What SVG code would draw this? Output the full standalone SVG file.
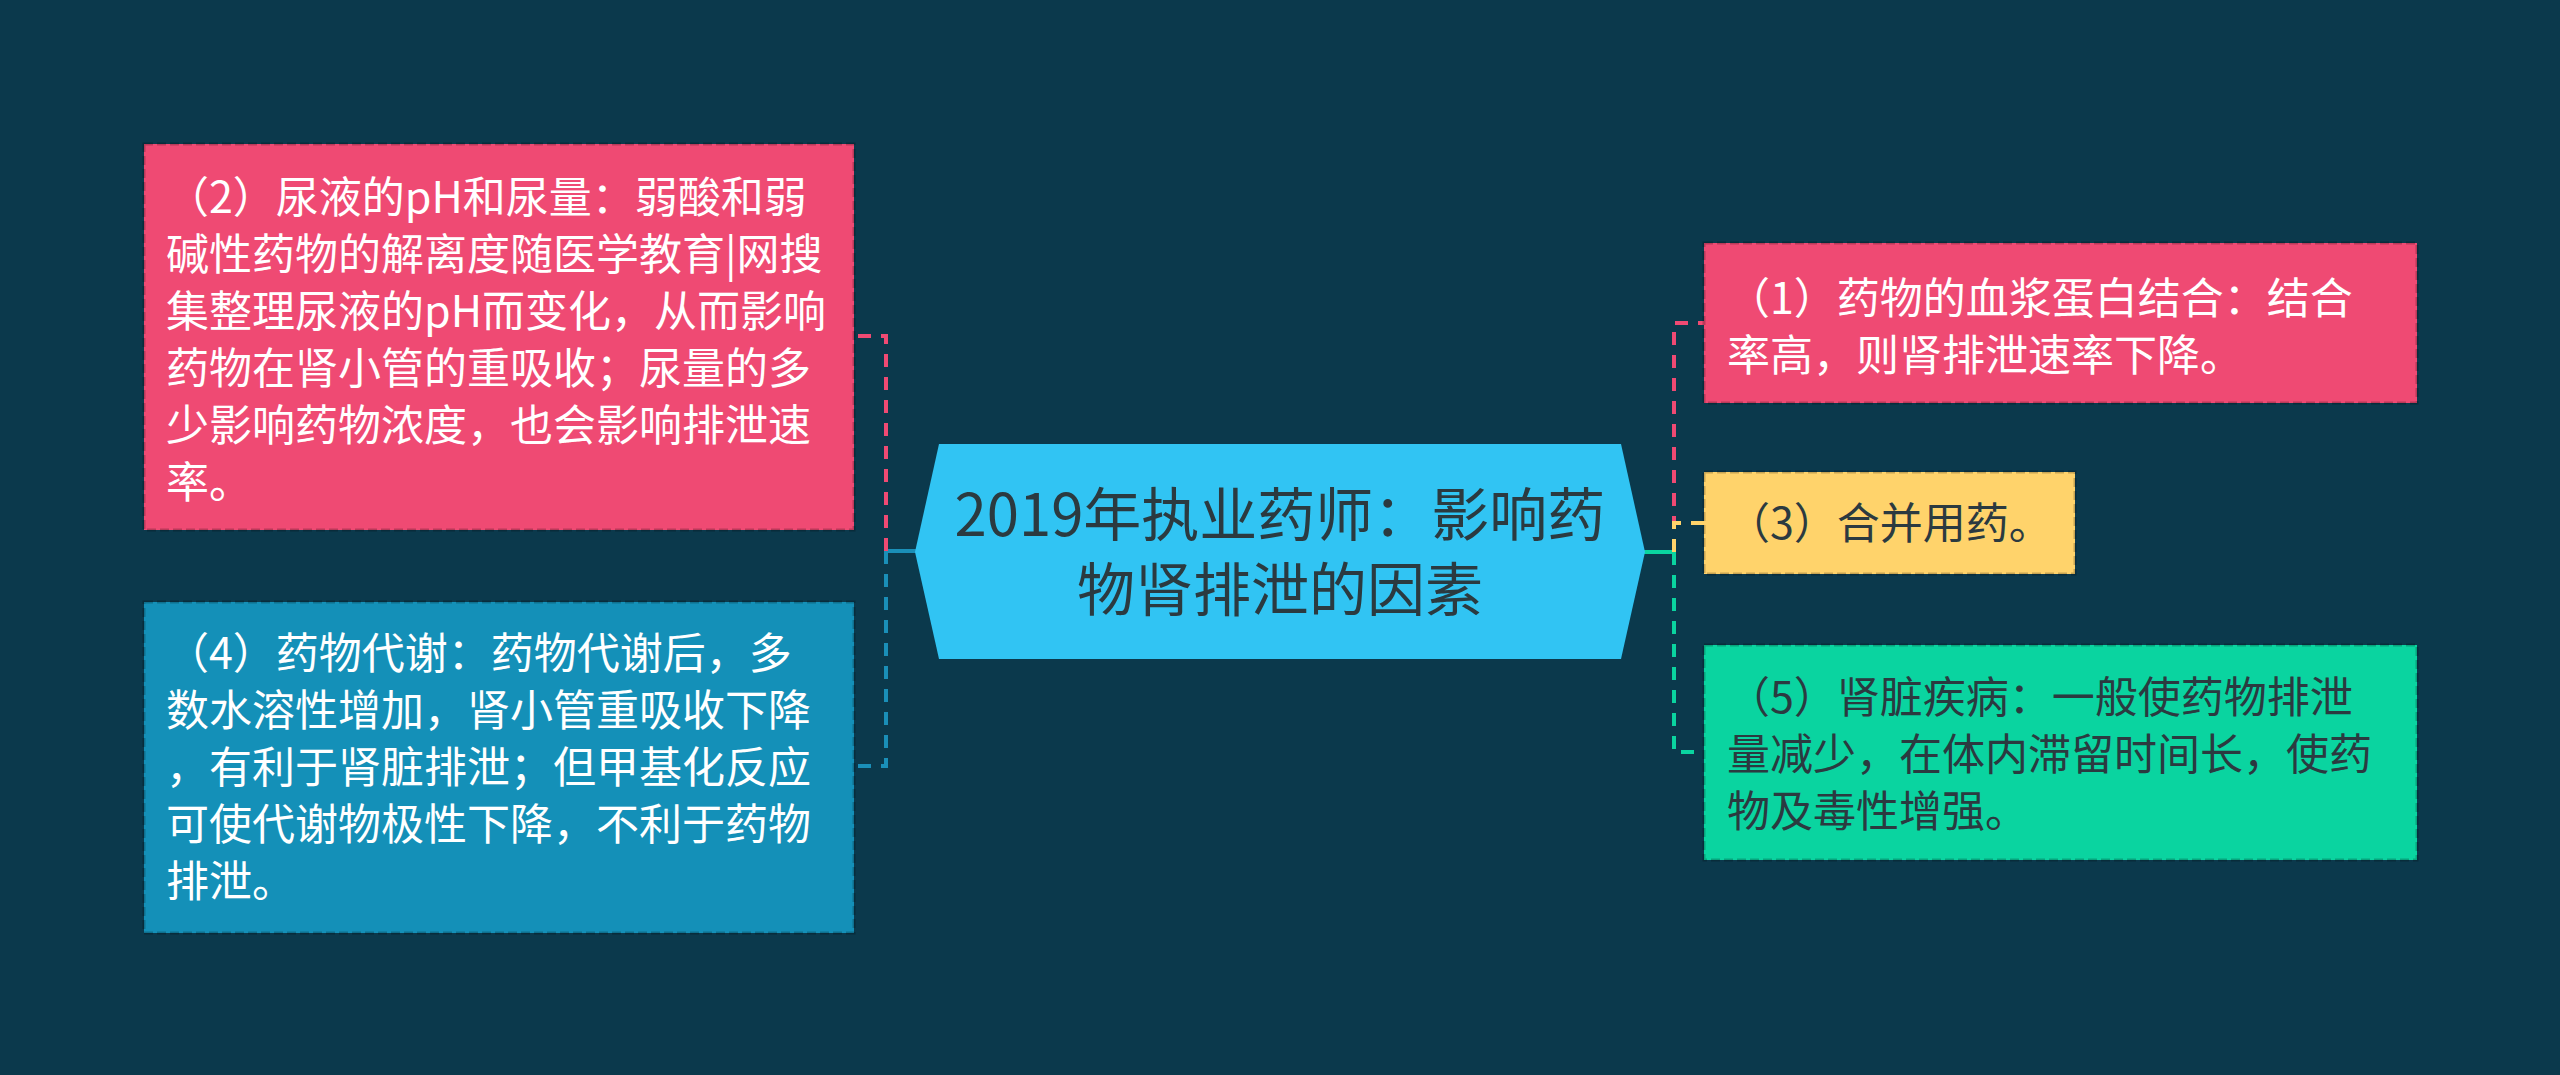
<svg xmlns="http://www.w3.org/2000/svg" width="2560" height="1075" viewBox="0 0 2560 1075">
<style>
.t{font-family:"Noto Sans CJK SC","Noto Sans",sans-serif;font-size:43px}
.big{font-size:58px}
.w{fill:#ffffff}
.d{fill:#2b3a40}
.box{stroke:#000000;stroke-opacity:0.22;stroke-width:3;stroke-dasharray:9 4}
.c{fill:none;stroke-width:4;stroke-dasharray:13 10}
</style>
<rect width="2560" height="1075" fill="#0b394c"/>
<g id="connectors">
<line x1="916" y1="551" x2="886" y2="551" stroke="#1a8fb8" stroke-width="4"/>
<path class="c" d="M886 551 V336 H855" stroke="#ef4a73"/>
<path class="c" d="M886 551 V766 H855" stroke="#1a8fb8"/>
<line x1="1643" y1="552" x2="1674" y2="552" stroke="#0ad4a0" stroke-width="4"/>
<path class="c" d="M1674 552 V323 H1704" stroke="#ef4a73"/>
<path class="c" d="M1674 552 V523 H1704" stroke="#ffd36b"/>
<path class="c" d="M1674 552 V752 H1704" stroke="#0ad4a0"/>
</g>
<g id="center">
<polygon points="915,552 939,444 1621,444 1645,552 1621,659 939,659" fill="#31c4f3"/>
<text class="t big d" text-anchor="middle"><tspan x="1280" y="536">2019年执业药师：影响药</tspan><tspan x="1280" y="611">物肾排泄的因素</tspan></text>
</g>
<g id="node2">
<rect class="box" x="144" y="144" width="710" height="386" fill="#ef4a73"/>
<text class="t w" x="166" y="213">（2）尿液的pH和尿量：弱酸和弱</text>
<text class="t w" x="166" y="270">碱性药物的解离度随医学教育|网搜</text>
<text class="t w" x="166" y="327">集整理尿液的pH而变化，从而影响</text>
<text class="t w" x="166" y="384">药物在肾小管的重吸收；尿量的多</text>
<text class="t w" x="166" y="441">少影响药物浓度，也会影响排泄速</text>
<text class="t w" x="166" y="498">率。</text>
</g>
<g id="node4">
<rect class="box" x="144" y="602" width="710" height="331" fill="#1490b8"/>
<text class="t w" x="166" y="669">（4）药物代谢：药物代谢后，多</text>
<text class="t w" x="166" y="726">数水溶性增加，肾小管重吸收下降</text>
<text class="t w" x="166" y="783">，有利于肾脏排泄；但甲基化反应</text>
<text class="t w" x="166" y="840">可使代谢物极性下降，不利于药物</text>
<text class="t w" x="166" y="897">排泄。</text>
</g>
<g id="node1">
<rect class="box" x="1704" y="243" width="713" height="160" fill="#ef4a73"/>
<text class="t w" x="1727" y="314">（1）药物的血浆蛋白结合：结合</text>
<text class="t w" x="1727" y="371">率高，则肾排泄速率下降。</text>
</g>
<g id="node3">
<rect class="box" x="1704" y="472" width="371" height="102" fill="#ffd36b"/>
<text class="t d" x="1727" y="539">（3）合并用药。</text>
</g>
<g id="node5">
<rect class="box" x="1704" y="645" width="713" height="215" fill="#0ad4a0"/>
<text class="t d" x="1727" y="713">（5）肾脏疾病：一般使药物排泄</text>
<text class="t d" x="1727" y="770">量减少，在体内滞留时间长，使药</text>
<text class="t d" x="1727" y="827">物及毒性增强。</text>
</g>
</svg>
